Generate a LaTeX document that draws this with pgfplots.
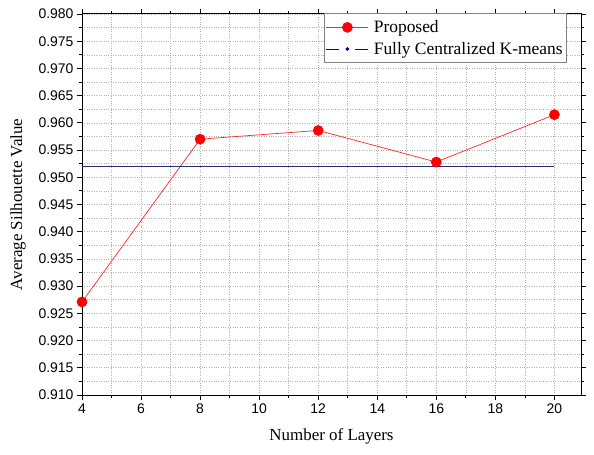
\documentclass[border=0pt]{standalone}
\usepackage{pgfplots}
\pgfplotsset{compat=1.18}
\usepackage{fontspec}
\setmainfont{Liberation Serif}
\newfontfamily\arial{Liberation Sans}
\definecolor{navyline}{RGB}{45,45,115}
\begin{document}
\begin{tikzpicture}
\begin{axis}[
  at={(0,0)}, anchor=south west,
  scale only axis,
  width=499bp, height=381bp,
  xmin=4, xmax=20.9, ymin=0.910, ymax=0.980,
  xtick={4,6,...,20},
  ytick={0.910,0.915,...,0.9801},
  minor x tick num=1,
  minor y tick num=1,
  grid=both,
  major grid style={gray!60, dotted, line width=0.6pt},
  minor grid style={gray!60, dotted, line width=0.6pt},
  axis line style={black, line width=1pt},
  tick align=outside,
  major tick length=5bp, minor tick length=3bp,
  tick style={black, line width=0.8pt},
  /pgf/number format/assume math mode=true,
  yticklabel style={/pgf/number format/.cd, fixed, fixed zerofill, precision=3},
  ticklabel style={font=\arial\fontsize{14}{14}\selectfont},
  xlabel={Number of Layers},
  ylabel={Average Silhouette Value},
  label style={font=\fontsize{17}{19}\selectfont},
  xlabel style={yshift=-8bp},
  ylabel style={yshift=6bp},
  legend style={at={(rel axis cs:0.972,1.002)}, anchor=north east,
    draw=gray, line width=0.8pt, font=\fontsize{17.5}{20}\selectfont,
    row sep=4pt, column sep=3bp, inner xsep=2pt, inner ysep=5pt},
  legend cell align=left,
]
\addplot[red!80!pink, line width=0.7pt, mark=*, mark size=5pt,
  mark options={fill=red, draw=red},
  legend image code/.code={\draw[red!80!pink, line width=0.7pt] (0bp,0bp) -- (42bp,0bp);
  \fill[red] (21bp,0bp) circle (5pt);}] coordinates {
  (4,0.9271) (8,0.9570) (12,0.9586) (16,0.9528) (20,0.9615)
};
\addlegendentry{Proposed}
\addplot[navyline, line width=0.9pt,
  legend image code/.code={\draw[blue!80!black, line width=0.8pt] (0bp,0bp) -- (13bp,0bp);
  \draw[blue!80!black, line width=0.8pt] (29bp,0bp) -- (42bp,0bp);
  \fill[blue!80!black] (21bp,0bp) circle (1.4pt);}]
  coordinates {(4,0.9519) (20,0.9519)};
\addlegendentry{Fully Centralized K-means}
\end{axis}
\useasboundingbox (-82bp,-60bp) rectangle (512bp,395bp);
\end{tikzpicture}
\end{document}
